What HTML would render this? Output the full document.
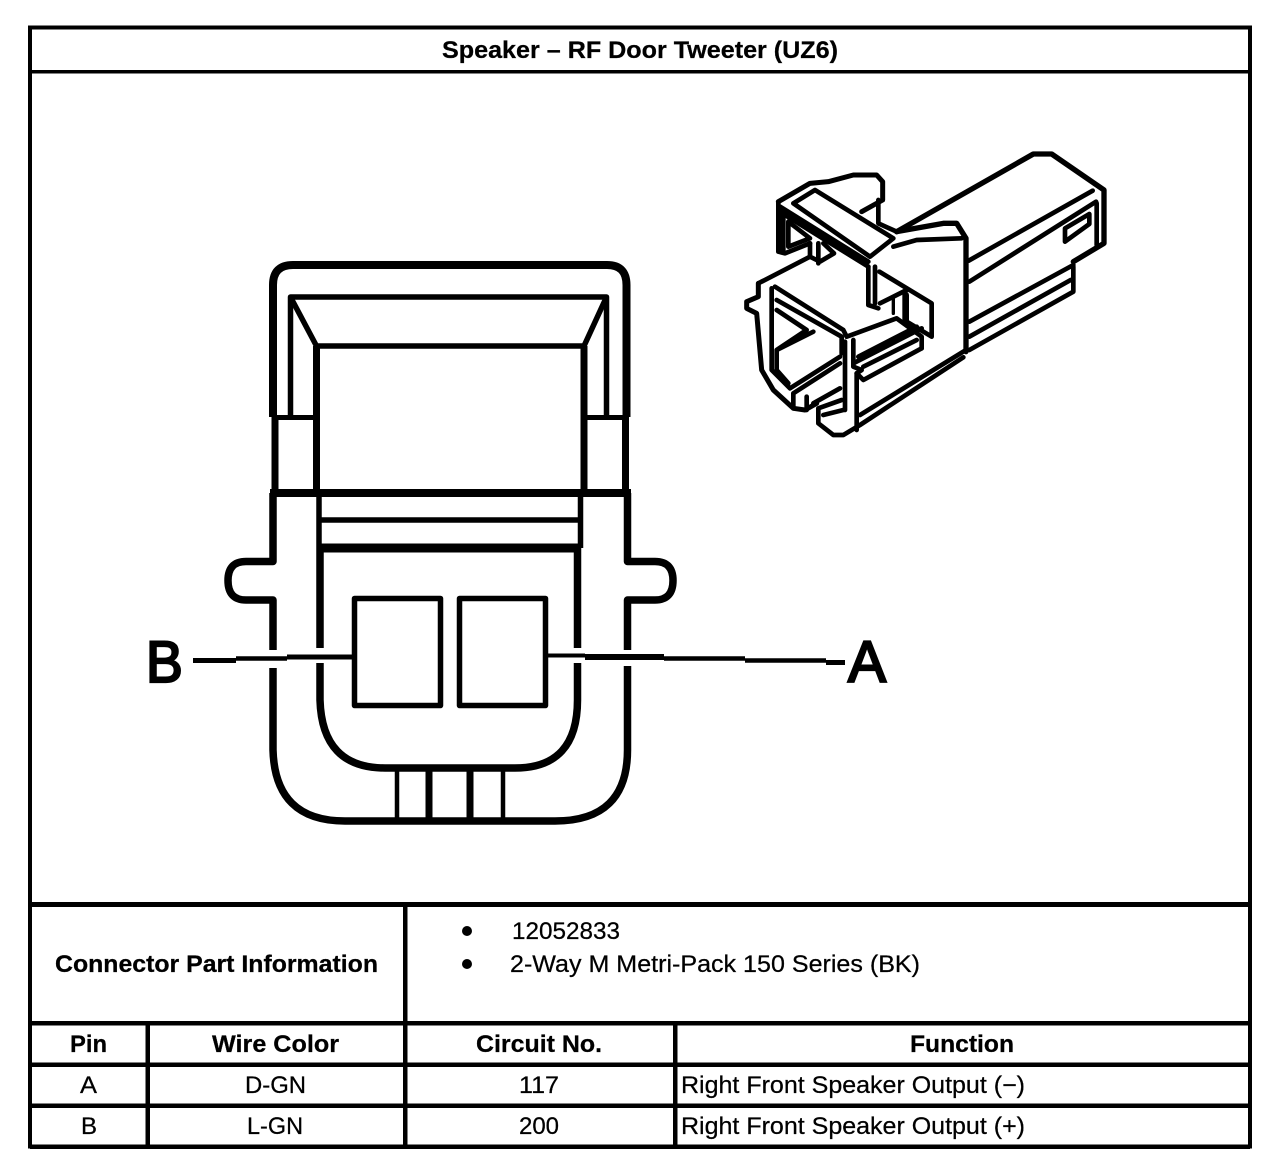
<!DOCTYPE html>
<html><head><meta charset="utf-8"><style>
html,body{margin:0;padding:0;background:#fff}
svg{display:block}
text{font-family:"Liberation Sans",sans-serif;font-size:24px;fill:#000;stroke:#000;stroke-width:.25}
.b{font-weight:bold}
</style></head><body>
<svg width="1280" height="1174" viewBox="0 0 1280 1174" xmlns="http://www.w3.org/2000/svg">
<rect width="1280" height="1174" fill="#fff"/>
<g stroke="#000" fill="none" shape-rendering="crispEdges">
<path d="M30 27.5H1250V1146.5H30Z" stroke-width="4"/>
<path d="M30 71.5H1250" stroke-width="3.5"/>
<path d="M30 904.5H1250" stroke-width="5"/>
<path d="M30 1023H1250M30 1064.5H1250M30 1105.5H1250M30 1146.5H1250" stroke-width="4.5"/>
<path d="M405 904V1146M147.5 1023V1146M675 1023V1146" stroke-width="4.5"/>
</g>
<text class="b" x="442" y="58" textLength="396" lengthAdjust="spacingAndGlyphs">Speaker – RF Door Tweeter (UZ6)</text>
<text class="b" x="55" y="972" textLength="323" lengthAdjust="spacingAndGlyphs">Connector Part Information</text>
<circle cx="467" cy="931" r="5"/><circle cx="467" cy="964" r="5"/>
<text x="512" y="939" textLength="108" lengthAdjust="spacingAndGlyphs">12052833</text>
<text x="510" y="972" textLength="410" lengthAdjust="spacingAndGlyphs">2-Way M Metri-Pack 150 Series (BK)</text>
<text class="b" x="70" y="1052" textLength="37" lengthAdjust="spacingAndGlyphs">Pin</text>
<text class="b" x="212" y="1052" textLength="127" lengthAdjust="spacingAndGlyphs">Wire Color</text>
<text class="b" x="476" y="1052" textLength="126" lengthAdjust="spacingAndGlyphs">Circuit No.</text>
<text class="b" x="910" y="1052" textLength="104" lengthAdjust="spacingAndGlyphs">Function</text>
<text x="80" y="1093" textLength="17" lengthAdjust="spacingAndGlyphs">A</text>
<text x="245" y="1093" textLength="61" lengthAdjust="spacingAndGlyphs">D-GN</text>
<text x="519" y="1093" textLength="40" lengthAdjust="spacingAndGlyphs">117</text>
<text x="681" y="1093" textLength="344" lengthAdjust="spacingAndGlyphs">Right Front Speaker Output (−)</text>
<text x="81" y="1134" textLength="16" lengthAdjust="spacingAndGlyphs">B</text>
<text x="247" y="1134" textLength="56" lengthAdjust="spacingAndGlyphs">L-GN</text>
<text x="519" y="1134" textLength="40" lengthAdjust="spacingAndGlyphs">200</text>
<text x="681" y="1134" textLength="344" lengthAdjust="spacingAndGlyphs">Right Front Speaker Output (+)</text>

<!-- Front view -->
<g stroke="#000" fill="none" stroke-linejoin="round">
<path d="M273 417V285Q273 265 293 265H607Q626.5 265 626.5 285V417" stroke-width="8"/>
<path d="M275 417V493M625.5 417V493" stroke-width="7"/>
<path d="M270 493H631" stroke-width="8"/>
<path d="M290.5 417V297H606.5V417" stroke-width="5.5"/>
<path d="M290.5 297L316.5 346H584L606.5 297" stroke-width="5.5"/>
<path d="M316.5 346V493M584 346V493" stroke-width="7"/>
<path d="M273 417.5H316M584 417.5H626" stroke-width="5"/>
<path d="M319 493V548M580.5 493V548M319 520H581" stroke-width="5.5"/>
<path d="M319 548H581" stroke-width="9"/>
<path d="M273 493V561.5H246Q228 561.5 228 580.5Q228 600 246 600H273V650M273 668V750Q275 821 345 821H555Q627.5 821 627.5 750V666M627.5 650V600H655Q673 600 673 580.5Q673 561.5 655 561.5H627.5V493" stroke-width="7.5"/>
<path d="M320 548V648M320 663V700Q322 768 385 768H515Q577.5 768 577.5 700V663M577.5 648V548" stroke-width="7.5"/>
<path d="M397 769V821M503 769V821" stroke-width="4.5"/>
<path d="M429 769V821M470 769V821" stroke-width="7"/>
<rect x="354.5" y="598.5" width="86" height="107" stroke-width="5.5"/>
<rect x="459.5" y="598.5" width="86" height="107" stroke-width="5.5"/>
<path d="M193 660.5H236" stroke-width="5"/><path d="M236 658.5H287" stroke-width="4.5"/><path d="M287 657H352" stroke-width="5"/>
<path d="M547 655.5H585" stroke-width="4"/><path d="M585 657H664" stroke-width="6"/><path d="M664 658.5H745" stroke-width="4.5"/><path d="M745 660.5H826" stroke-width="4.5"/><path d="M826 662.5H845" stroke-width="5"/>
</g>
<text transform="translate(146 682) scale(.92 .98)" style="font-size:60px;stroke-width:2.4">B</text>
<text transform="translate(848 682) scale(.95 .98)" style="font-size:60px;stroke-width:2.4">A</text>

<!-- Isometric connector (traced in 3× coordinates) -->
<g transform="translate(730 140) scale(.33333)" stroke="#000" fill="none" stroke-width="14" stroke-linejoin="round" stroke-linecap="round">
<path d="M500 275L910 42H965L1122 150V310L1030 365" stroke-width="16"/>
<path d="M1088 152L716 362M1098 185L718 425"/>
<path d="M1100 190V315"/>
<path d="M1005 265L1078 222V252L1005 305Z"/>
<path d="M1030 375L718 545M1022 420L718 590M1030 380V455L718 630"/>
<path d="M500 275L640 250H680L708 295V635" stroke-width="16"/>
<path d="M490 320L560 300L695 295"/>
<path d="M145 185L240 130L295 125L370 105H440L458 125V180L395 215" stroke-width="15"/>
<path d="M445 180V250L500 275"/>
<path d="M145 185V335L165 340L240 310" />
<path d="M157 215V330" stroke-width="20"/>
<path d="M190 190L255 150L490 295L420 350Z"/>
<path d="M150 200L415 365M165 225L415 380"/>
<path d="M175 245L240 295L175 320Z"/>
<path d="M240 310V350M265 310V370M280 310L312 340L270 365L240 350"/>
<path d="M415 380V495L445 505M435 380V490"/>
<path d="M448 395L605 490V590L530 545"/>
<path d="M450 490L530 450"/>
<path d="M490 470V520" stroke-width="10"/>
<path d="M527 465V545" stroke-width="20"/>
<path d="M85 430L240 350"/>
<path d="M135 440L340 570L350 590L500 535L575 590V625"/>
<path d="M140 480L335 590V640"/>
<path d="M85 430V470L50 485V505L80 520L95 690L130 750L190 805L225 810L260 790" stroke-width="15"/>
<path d="M125 445V690L180 745L330 650"/>
<path d="M140 510L230 570L140 630V690L175 730M140 630L250 575"/>
<path d="M345 605V810" stroke-width="14"/>
<path d="M370 600V680L395 690L380 700V870"/>
<path d="M370 670L575 565M575 625L400 720L380 700"/>
<path d="M385 650L560 560M400 680L560 600"/>
<path d="M708 630L390 825M700 652L390 855L340 885H310L265 850V805L335 780"/>
<path d="M190 760L330 670M190 760V805M230 770V810M250 790L330 745M280 825L340 810"/>
</g>
</svg>
</body></html>
